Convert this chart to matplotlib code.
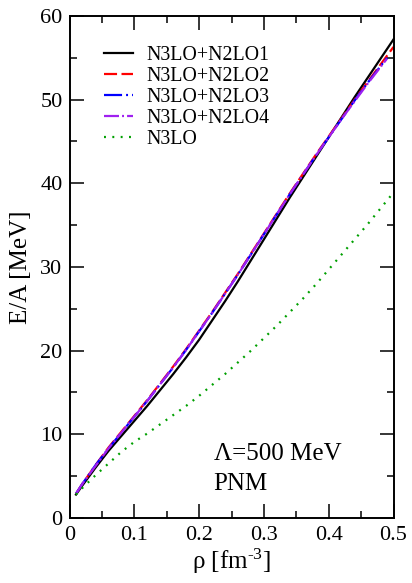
import numpy as np
import matplotlib
matplotlib.use("Agg")
import matplotlib.pyplot as plt
from matplotlib.ticker import MultipleLocator

plt.rcParams["font.family"] = ["Liberation Serif", "DejaVu Serif"]
plt.rcParams["mathtext.fontset"] = "custom"
plt.rcParams["mathtext.rm"] = "Liberation Serif"
plt.rcParams["mathtext.it"] = "Liberation Serif:italic"
plt.rcParams["lines.scale_dashes"] = False

# density grid [fm^-3]
rho = [0.01, 0.02, 0.04, 0.06, 0.08, 0.10, 0.12, 0.14, 0.16, 0.18, 0.20,
       0.22, 0.24, 0.26, 0.28, 0.30, 0.32, 0.34, 0.36, 0.38, 0.40,
       0.42, 0.44, 0.46, 0.48, 0.49, 0.50]

# energy per particle E/A [MeV] for pure neutron matter
ea_n2lo1 = [2.8, 3.9, 6.0, 8.0, 9.8, 11.6, 13.4, 15.3, 17.2, 19.2, 21.3,
            23.6, 25.9, 28.3, 30.8, 33.3, 35.8, 38.3, 40.7, 43.1, 45.5,
            47.9, 50.3, 52.6, 54.9, 56.05, 57.2]
ea_n2lo2 = [2.9, 4.1, 6.3, 8.4, 10.3, 12.2, 14.1, 16.1, 18.1, 20.2, 22.4,
            24.6, 26.9, 29.2, 31.6, 34.0, 36.4, 38.8, 41.1, 43.4, 45.6,
            47.8, 50.0, 52.1, 54.2, 55.25, 56.3]
ea_n2lo3 = [2.9, 4.1, 6.3, 8.3, 10.2, 12.1, 14.0, 16.0, 18.0, 20.1, 22.3,
            24.5, 26.8, 29.1, 31.5, 33.9, 36.3, 38.7, 41.0, 43.3, 45.5,
            47.7, 49.9, 52.0, 54.0, 55.0, np.nan]
ea_n2lo4 = [2.9, 4.1, 6.2, 8.3, 10.2, 12.1, 14.0, 16.0, 18.0, 20.1, 22.3,
            24.5, 26.8, 29.1, 31.5, 33.9, 36.3, 38.7, 41.0, 43.3, 45.5,
            47.7, 49.8, 51.9, 53.9, 54.9, np.nan]
ea_n3lo = [2.8, 3.6, 5.1, 6.5, 7.9, 9.1, 10.1, 11.2, 12.3, 13.4, 14.6,
           15.9, 17.2, 18.6, 20.0, 21.5, 23.0, 24.6, 26.2, 27.9, 29.7,
           31.5, 33.3, 35.1, 37.0, 37.95, 38.9]

labels = ["N3LO+N2LO1", "N3LO+N2LO2", "N3LO+N2LO3", "N3LO+N2LO4", "N3LO"]

fig = plt.figure(figsize=(4.12, 5.83), dpi=100)
ax = fig.add_axes([0.1687, 0.1115, 0.7864, 0.8611])

lw = 1.6
ax.plot(rho, ea_n2lo1, color="black", lw=lw, label=labels[0])
ax.plot(rho, ea_n2lo2, color="#ff0000", lw=lw, linestyle=(0, (9.4, 3.2)),
        label=labels[1])
ax.plot(rho, ea_n2lo3, color="#0000ff", lw=lw,
        linestyle=(0, (13, 2.9, 1.4, 2.9)), label=labels[2])
ax.plot(rho, ea_n2lo4, color="#a020f0", lw=lw,
        linestyle=(0, (10.8, 2.2, 1.4, 2.2)), label=labels[3])
ax.plot(rho, ea_n3lo, color="#00a000", lw=lw, linestyle=(0, (1.4, 4.6)),
        label=labels[4])

ax.set_xlim(0, 0.5)
ax.set_ylim(0, 60)
ax.xaxis.set_minor_locator(MultipleLocator(0.05))
ax.yaxis.set_major_locator(MultipleLocator(10))
ax.yaxis.set_minor_locator(MultipleLocator(5))
ax.set_xticks([0, 0.1, 0.2, 0.3, 0.4, 0.5])
ax.set_xticklabels(["0", "0.1", "0.2", "0.3", "0.4", "0.5"])
ax.tick_params(which="both", direction="in", top=True, right=True,
               labelsize=16, width=1.1)
ax.tick_params(which="major", length=10)
ax.tick_params(axis="x", which="major", pad=6)
ax.tick_params(axis="y", which="major", pad=5)
ax.tick_params(which="minor", length=5)
for s in ax.spines.values():
    s.set_linewidth(1.4)

ax.set_xlabel(r"ρ [fm$^{\text{-}3}$]", fontsize=18, labelpad=1)
ax.set_ylabel("E/A [MeV]", fontsize=18, labelpad=6)

ax.legend(loc="upper left", bbox_to_anchor=(0.106, 0.941), frameon=False,
          fontsize=14.3, handlelength=1.46, handletextpad=0.69,
          labelspacing=0.1, borderpad=0, borderaxespad=0)

ax.text(0.445, 0.115, "Λ=500 MeV", transform=ax.transAxes, fontsize=18,
        ha="left", va="baseline")
ax.text(0.445, 0.055, "PNM", transform=ax.transAxes, fontsize=18,
        ha="left", va="baseline")

fig.savefig("out.png", dpi=100)
